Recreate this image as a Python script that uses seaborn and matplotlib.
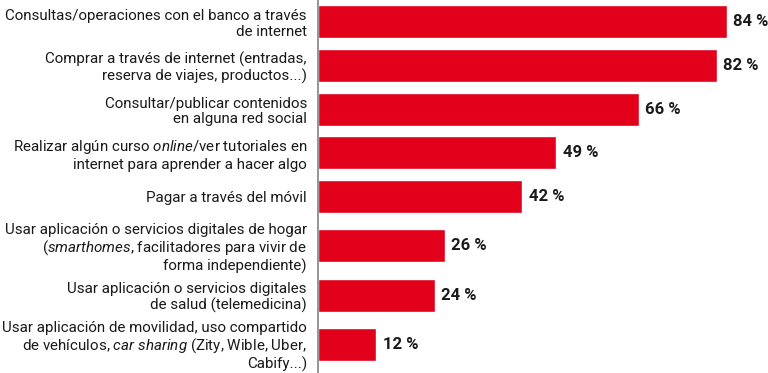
import matplotlib
matplotlib.use("Agg")
import matplotlib.pyplot as plt
import seaborn as sns
import pandas as pd

labels = [
    "Consultas/operaciones con el banco a través\nde internet",
    "Comprar a través de internet (entradas,\nreserva de viajes, productos...)",
    "Consultar/publicar contenidos\nen alguna red social",
    "Realizar algún curso $\\it{online}$/ver tutoriales en\ninternet para aprender a hacer algo",
    "Pagar a través del móvil",
    "Usar aplicación o servicios digitales de hogar\n($\\it{smarthomes}$, facilitadores para vivir de\nforma independiente)",
    "Usar aplicación o servicios digitales\nde salud (telemedicina)",
    "Usar aplicación de movilidad, uso compartido\nde vehículos, $\\it{car\\ sharing}$ (Zity, Wible, Uber,\nCabify...)",
]
values = [84, 82, 66, 49, 42, 26, 24, 12]

RED = "#E2001A"

sns.set_style("white")
plt.rcParams["font.family"] = ["Roboto", "DejaVu Sans"]
plt.rcParams["mathtext.fontset"] = "custom"
plt.rcParams["mathtext.rm"] = "Roboto"
plt.rcParams["mathtext.it"] = "Roboto:italic"

# row layout: rows with three-line labels get a bit more room
n_lines = [lab.count("\n") + 1 for lab in labels]
pos = [21.8]
for i in range(1, len(labels)):
    gap = 43.7 + 5.5 * ((n_lines[i] == 3) + (n_lines[i - 1] == 3))
    pos.append(pos[-1] + gap)

df = pd.DataFrame({"pos": pos, "value": values})

fig = plt.figure(figsize=(7.68, 3.73), dpi=100)
ax = fig.add_axes([318 / 768, 0, 450 / 768, 1])

sns.barplot(data=df, x="value", y="pos", orient="h", native_scale=True,
            color=RED, saturation=1, width=33 / 43.7, ax=ax)

for c in ax.containers:
    ax.bar_label(c, fmt="{:.0f} %", padding=4.5, fontsize=12,
                 fontweight="bold", color="#1a1a1a")

ax.set_xlim(0, 450 / 4.866)
ax.set_ylim(373, 0)
ax.set_yticks(pos)
ax.set_yticklabels(labels, fontsize=10.9, color="#1a1a1a", ha="right",
                   linespacing=1.12)
ax.set_xticks([])
ax.tick_params(axis="y", length=0, pad=8)
ax.set_xlabel("")
ax.set_ylabel("")

for s in ["top", "right", "bottom"]:
    ax.spines[s].set_visible(False)
ax.spines["left"].set_color("#8c8c8c")
ax.spines["left"].set_linewidth(1.3)

fig.savefig("out.png", dpi=100)
